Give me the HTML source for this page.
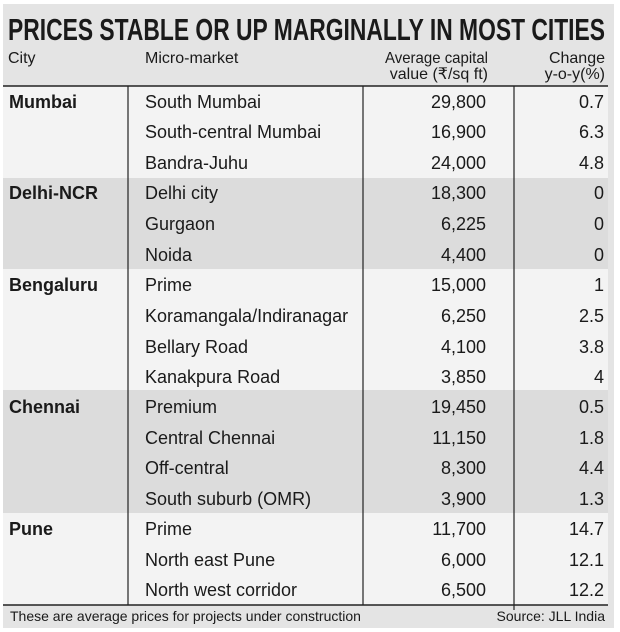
<!DOCTYPE html>
<html><head><meta charset="utf-8">
<style>
html,body{margin:0;padding:0;background:#fff}
svg{display:block}
text{font-family:"Liberation Sans","Noto Sans CJK SC",sans-serif;fill:#1a1a1a}
</style></head>
<body>
<svg width="620" height="632" viewBox="0 0 620 632">
<rect x="0" y="0" width="620" height="632" fill="#fff"/>
<rect x="3" y="4" width="611" height="624" fill="#e4e4e4"/>
<text x="8" y="40" font-size="31" font-weight="bold" textLength="597" lengthAdjust="spacingAndGlyphs">PRICES STABLE OR UP MARGINALLY IN MOST CITIES</text>
<g font-size="16">
<text x="8" y="63">City</text>
<text x="145" y="63">Micro-market</text>
<text x="488" y="63" text-anchor="end" textLength="103" lengthAdjust="spacingAndGlyphs">Average capital</text>
<text x="488" y="79" text-anchor="end">value (₹/sq ft)</text>
<text x="605" y="63" text-anchor="end">Change</text>
<text x="605" y="79" text-anchor="end">y-o-y(%)</text>
</g>
<g>
<rect x="3" y="86" width="605" height="92" fill="#f3f3f3"/>
<rect x="3" y="178" width="605" height="91" fill="#dcdcdc"/>
<rect x="3" y="269" width="605" height="121" fill="#f3f3f3"/>
<rect x="3" y="390" width="605" height="123" fill="#dcdcdc"/>
<rect x="3" y="513" width="605" height="92" fill="#f3f3f3"/>
</g>
<line x1="3" y1="86" x2="608" y2="86" stroke="#222" stroke-width="1.5"/>
<line x1="3" y1="605" x2="608" y2="605" stroke="#222" stroke-width="1.5"/>
<line x1="128" y1="86" x2="128" y2="605" stroke="#222" stroke-width="1.2"/>
<line x1="363" y1="86" x2="363" y2="605" stroke="#222" stroke-width="1.2"/>
<line x1="514" y1="86" x2="514" y2="610" stroke="#222" stroke-width="1.2"/>
<g font-size="18" font-weight="bold">
<text x="9" y="108">Mumbai</text>
<text x="9" y="199">Delhi-NCR</text>
<text x="9" y="291">Bengaluru</text>
<text x="9" y="413">Chennai</text>
<text x="9" y="535">Pune</text>
</g>
<g font-size="18">
<g><text x="145" y="108">South Mumbai</text><text x="486" y="108" text-anchor="end">29,800</text><text x="604" y="108" text-anchor="end">0.7</text></g>
<g><text x="145" y="138">South-central Mumbai</text><text x="486" y="138" text-anchor="end">16,900</text><text x="604" y="138" text-anchor="end">6.3</text></g>
<g><text x="145" y="169">Bandra-Juhu</text><text x="486" y="169" text-anchor="end">24,000</text><text x="604" y="169" text-anchor="end">4.8</text></g>
<g><text x="145" y="199">Delhi city</text><text x="486" y="199" text-anchor="end">18,300</text><text x="604" y="199" text-anchor="end">0</text></g>
<g><text x="145" y="230">Gurgaon</text><text x="486" y="230" text-anchor="end">6,225</text><text x="604" y="230" text-anchor="end">0</text></g>
<g><text x="145" y="261">Noida</text><text x="486" y="261" text-anchor="end">4,400</text><text x="604" y="261" text-anchor="end">0</text></g>
<g><text x="145" y="291">Prime</text><text x="486" y="291" text-anchor="end">15,000</text><text x="604" y="291" text-anchor="end">1</text></g>
<g><text x="145" y="322">Koramangala/Indiranagar</text><text x="486" y="322" text-anchor="end">6,250</text><text x="604" y="322" text-anchor="end">2.5</text></g>
<g><text x="145" y="353">Bellary Road</text><text x="486" y="353" text-anchor="end">4,100</text><text x="604" y="353" text-anchor="end">3.8</text></g>
<g><text x="145" y="383">Kanakpura Road</text><text x="486" y="383" text-anchor="end">3,850</text><text x="604" y="383" text-anchor="end">4</text></g>
<g><text x="145" y="413">Premium</text><text x="486" y="413" text-anchor="end">19,450</text><text x="604" y="413" text-anchor="end">0.5</text></g>
<g><text x="145" y="444">Central Chennai</text><text x="486" y="444" text-anchor="end">11,150</text><text x="604" y="444" text-anchor="end">1.8</text></g>
<g><text x="145" y="474">Off-central</text><text x="486" y="474" text-anchor="end">8,300</text><text x="604" y="474" text-anchor="end">4.4</text></g>
<g><text x="145" y="505">South suburb (OMR)</text><text x="486" y="505" text-anchor="end">3,900</text><text x="604" y="505" text-anchor="end">1.3</text></g>
<g><text x="145" y="535">Prime</text><text x="486" y="535" text-anchor="end">11,700</text><text x="604" y="535" text-anchor="end">14.7</text></g>
<g><text x="145" y="566">North east Pune</text><text x="486" y="566" text-anchor="end">6,000</text><text x="604" y="566" text-anchor="end">12.1</text></g>
<g><text x="145" y="596">North west corridor</text><text x="486" y="596" text-anchor="end">6,500</text><text x="604" y="596" text-anchor="end">12.2</text></g>
</g>
<text x="10" y="621" font-size="14">These are average prices for projects under construction</text>
<text x="605" y="621" font-size="14" text-anchor="end">Source: JLL India</text>
</svg>
</body></html>
